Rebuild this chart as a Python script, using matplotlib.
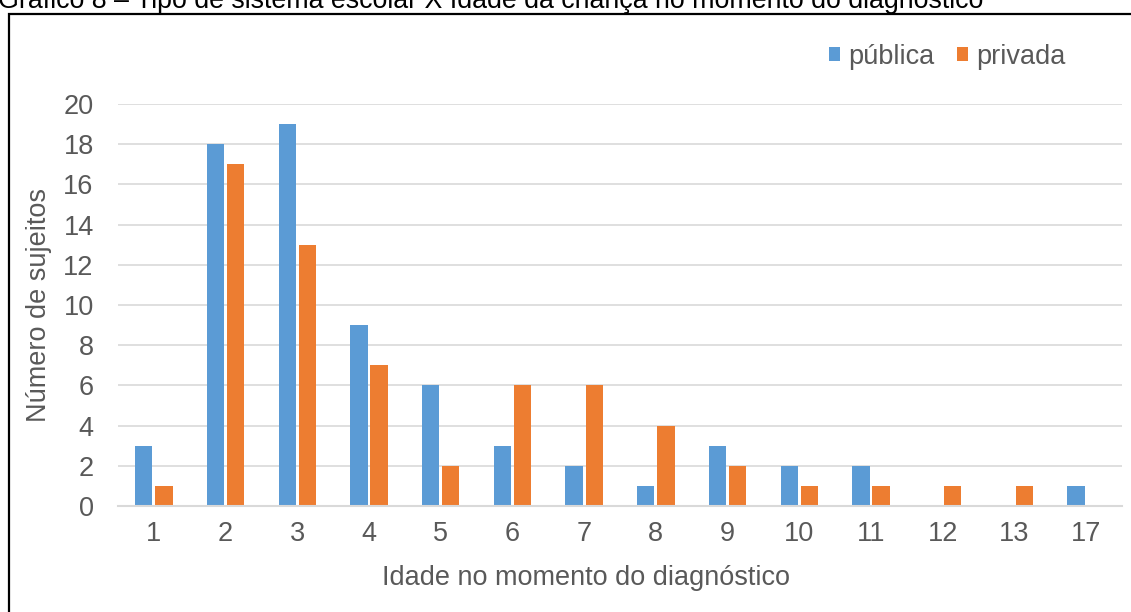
import matplotlib
matplotlib.use("Agg")
import matplotlib.pyplot as plt
from matplotlib.patches import Rectangle
import numpy as np

plt.rcParams['font.family'] = ['Liberation Sans', 'DejaVu Sans']

idades = ['1', '2', '3', '4', '5', '6', '7', '8', '9', '10', '11', '12', '13', '17']
publica = [3, 18, 19, 9, 6, 3, 2, 1, 3, 2, 2, 0, 0, 1]
privada = [1, 17, 13, 7, 2, 6, 6, 4, 2, 1, 1, 1, 1, 0]
yticks = list(range(0, 21, 2))

W, H = 1131, 612
fig = plt.figure(figsize=(W / 100, H / 100), dpi=100)
ax = fig.add_axes([118 / W, 1 - 506 / H, (1122 - 118) / W, (506 - 104) / H])

blue = '#5b9bd5'
orange = '#ed7d31'
grey = '#595959'
fs = 19.5

x = np.arange(len(idades))
bw = 0.24
gap = 0.04
ax.bar(x - (bw + gap) / 2, publica, width=bw, color=blue, label='pública', zorder=3)
ax.bar(x + (bw + gap) / 2, privada, width=bw, color=orange, label='privada', zorder=3)

ax.set_xlim(-0.5, len(idades) - 0.5)
ax.set_ylim(0, 20)
ax.set_yticks(yticks)
ax.set_xticks(x)
ax.set_xticklabels(idades)
ax.tick_params(axis='both', length=0, labelsize=fs, labelcolor=grey)
ax.tick_params(axis='x', pad=11)
ax.tick_params(axis='y', pad=17.5)
ax.grid(axis='y', color='#d9d9d9', linewidth=1.2, zorder=0)
for s in ['top', 'right', 'left']:
    ax.spines[s].set_visible(False)
ax.spines['bottom'].set_color('#d9d9d9')
ax.spines['bottom'].set_linewidth(1.5)
ax.spines['bottom'].set_zorder(4)

ax.set_xlabel('Idade no momento do diagnóstico', fontsize=fs, color=grey, labelpad=11)
ax.xaxis.set_label_coords(0.466, -0.148)
ax.set_ylabel('Número de sujeitos', fontsize=fs, color=grey, labelpad=8)

leg = fig.legend(loc='center left', bbox_to_anchor=(829 / W, 1 - 57 / H), ncol=2,
                 frameon=False, fontsize=fs, handlelength=0.4, handleheight=0.4,
                 handletextpad=0.3, columnspacing=0.85, borderaxespad=0, borderpad=0)
for t in leg.get_texts():
    t.set_color(grey)

# outer chart frame, cut by the page edges
fig.patches.append(Rectangle((8.5 / W, -0.1), 1.2, 1 - 13.5 / H + 0.1,
                             transform=fig.transFigure, fill=False,
                             edgecolor='black', linewidth=1.6, zorder=10))

# caption above the frame, its top cut by the page edge
fig.text(-0.002, 1 - 7.5 / H,
         'Gráfico 8 – Tipo de sistema escolar X Idade da criança no momento do diagnóstico',
         fontsize=19.25, color='black', va='baseline', ha='left')

fig.savefig('out.png', dpi=100)
